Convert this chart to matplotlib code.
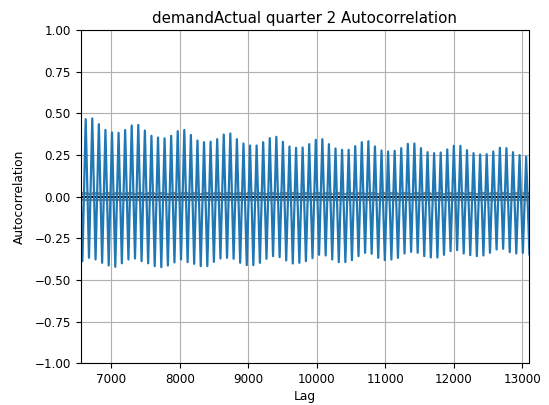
import numpy as np
import matplotlib
matplotlib.use("Agg")
import matplotlib.pyplot as plt

# Daily period of the series (quarter-hour samples)
period = 96
n_obs = 13102
# day indices whose lag multiples are visible (first one just off-screen)
days = list(range(68, 137))

# autocorrelation at peaks (lag = day*96)
peak_vals = [0.45,
             0.465, 0.469, 0.435, 0.40, 0.385, 0.383, 0.40, 0.427, 0.43, 0.397,
             0.365, 0.355, 0.35, 0.365, 0.393, 0.40, 0.37, 0.337, 0.327, 0.33,
             0.345, 0.373, 0.379,
             0.345, 0.319, 0.307, 0.307, 0.327, 0.351, 0.359, 0.329, 0.301, 0.293,
             0.295, 0.315, 0.341, 0.345, 0.315, 0.289, 0.281, 0.281, 0.303, 0.327,
             0.333, 0.301, 0.277, 0.271,
             0.275, 0.291, 0.317, 0.319, 0.291, 0.267, 0.261, 0.265, 0.283, 0.305,
             0.305, 0.279, 0.261, 0.253, 0.255, 0.271, 0.293, 0.291, 0.267, 0.249,
             0.239]

# autocorrelation at troughs (lag = day*96 + 48), following each peak
trough_vals = [-0.387, -0.367, -0.377, -0.397, -0.413, -0.421, -0.40, -0.377, -0.371,
               -0.387, -0.40, -0.417, -0.423, -0.413, -0.395, -0.377, -0.393, -0.403,
               -0.417, -0.417, -0.391, -0.371, -0.367,
               -0.373, -0.397, -0.411, -0.411, -0.397, -0.373, -0.357, -0.363, -0.383,
               -0.401, -0.397, -0.387, -0.369, -0.349, -0.353, -0.377, -0.393, -0.393,
               -0.381, -0.357, -0.337, -0.343, -0.367, -0.381,
               -0.377, -0.367, -0.341, -0.331, -0.337, -0.357, -0.365, -0.365, -0.349,
               -0.327, -0.321, -0.341, -0.351, -0.357, -0.353, -0.337, -0.317, -0.313,
               -0.333, -0.341, -0.337, -0.347]

lags = []
vals = []
for d, pv, tv in zip(days, peak_vals, trough_vals):
    lags.append(d * period)
    vals.append(pv)
    lags.append(d * period + period // 2)
    vals.append(tv)

fig = plt.figure(figsize=(5.49, 4.05), dpi=100)
ax = fig.add_axes([80.7 / 549, 1 - 363.3 / 405, (529.3 - 80.7) / 549, (363.3 - 30) / 405])

z95 = 1.959963984540054
z99 = 2.5758293035489
ax.axhline(y=z99 / np.sqrt(n_obs), linestyle="--", color="grey")
ax.axhline(y=z95 / np.sqrt(n_obs), color="grey")
ax.axhline(y=0.0, color="black")
ax.axhline(y=-z95 / np.sqrt(n_obs), color="grey")
ax.axhline(y=-z99 / np.sqrt(n_obs), linestyle="--", color="grey")
ax.plot(lags, vals, color="#1f77b4", linewidth=1.6)
ax.set_xlim(n_obs / 2, n_obs)
ax.set_ylim(-1.0, 1.0)
ax.tick_params(labelsize=8.6)
ax.set_xlabel("Lag", fontsize=8.8, labelpad=3)
ax.set_ylabel("Autocorrelation", fontsize=8.8, labelpad=6)
ax.set_title("demandActual quarter 2 Autocorrelation", fontsize=10.8, pad=5)
ax.grid()

fig.savefig("out.png", dpi=100)
